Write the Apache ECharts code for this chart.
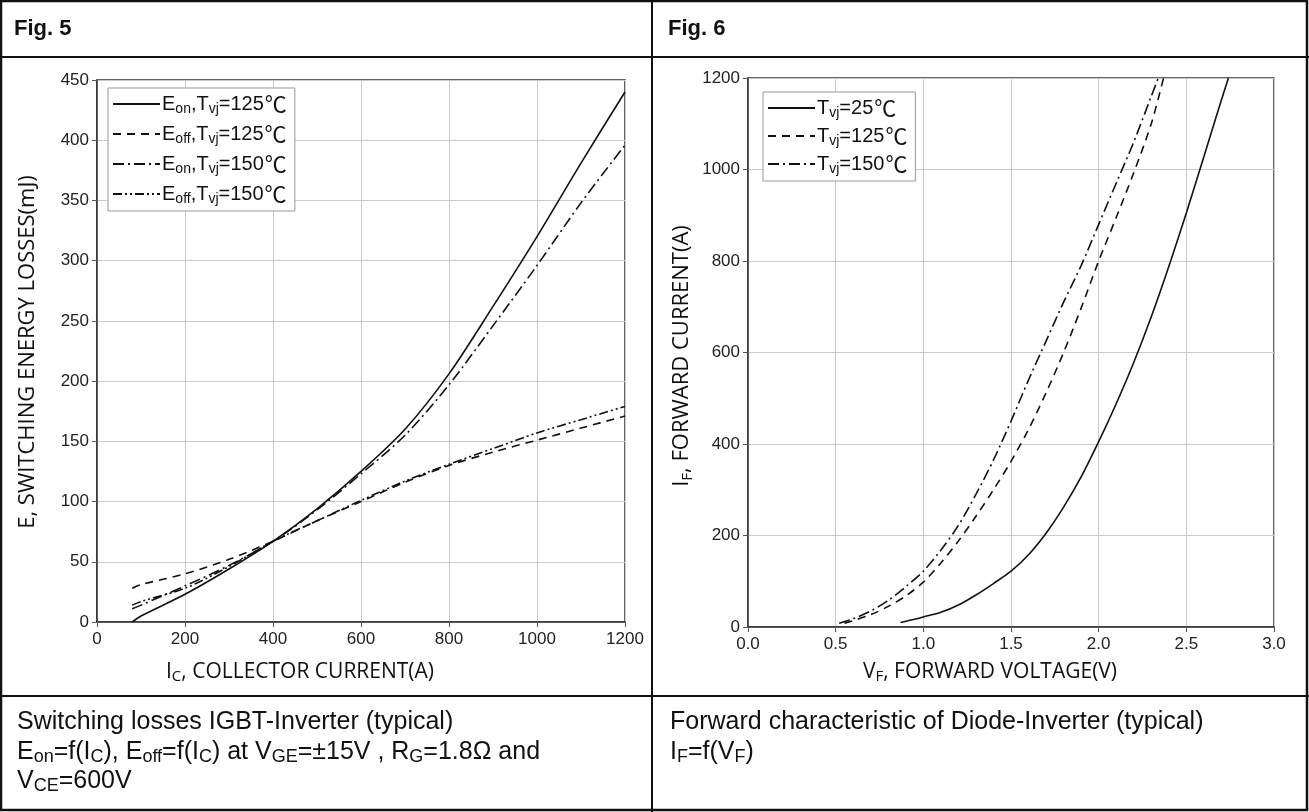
<!DOCTYPE html>
<html>
<head>
<meta charset="utf-8">
<script src="https://cdn.jsdelivr.net/npm/echarts@6/dist/echarts.min.js"></script>
<style>
  html, body { margin: 0; padding: 0; background: #fff; }
  #chart { width: 1309px; height: 812px; }
</style>
</head>
<body>
<div id="chart"></div>
<script>
// Fig. 5 - switching losses vs collector current (mJ over A)
const icPoints = [80, 100, 200, 300, 400, 500, 600, 700, 800, 900, 1000, 1100, 1200]
const eon125 = [0, 5, 23, 44, 67, 94, 125, 160, 206, 262, 320, 381, 440]
const eoff125 = [28, 31, 40, 52, 67, 84, 100, 116, 130, 141, 151, 161, 171]
const eon150 = [11, 14, 30, 47, 67, 93, 123, 155, 197, 246, 296, 348, 396]
const eoff150 = [14, 17, 28, 46, 67, 84, 101, 117, 131, 144, 157, 168, 179]

// Fig. 6 - diode forward characteristic (A over V)
const vf25 = [0.87, 0.95, 1.0, 1.1, 1.2, 1.3, 1.4, 1.5, 1.6, 1.7, 1.8, 1.9, 2.0, 2.1, 2.2, 2.3, 2.4, 2.5, 2.6, 2.7, 2.74]
const if25 = [10, 17, 22, 32, 48, 70, 95, 122, 158, 205, 262, 328, 405, 488, 578, 678, 788, 905, 1028, 1152, 1200]
const vf125 = [0.55, 0.6, 0.7, 0.8, 0.9, 1.0, 1.1, 1.2, 1.3, 1.4, 1.5, 1.6, 1.7, 1.8, 1.9, 2.0, 2.1, 2.2, 2.3, 2.37]
const if125 = [8, 14, 27, 45, 68, 98, 140, 188, 242, 300, 362, 432, 512, 600, 697, 800, 895, 993, 1100, 1200]
const vf150 = [0.52, 0.6, 0.7, 0.8, 0.9, 1.0, 1.1, 1.2, 1.3, 1.4, 1.5, 1.6, 1.7, 1.8, 1.9, 2.0, 2.1, 2.2, 2.3, 2.34]
const if150 = [8, 18, 35, 58, 88, 122, 168, 222, 290, 365, 450, 540, 625, 710, 790, 880, 970, 1060, 1160, 1200]

// tick labels
const fig5XTicks = [0, 200, 400, 600, 800, 1000, 1200]
const fig5YTicks = [0, 50, 100, 150, 200, 250, 300, 350, 400, 450]
const fig6XTicks = ['0.0', '0.5', '1.0', '1.5', '2.0', '2.5', '3.0']
const fig6YTicks = [0, 200, 400, 600, 800, 1000, 1200]

// legend names (rich text used for subscripts)
const legendText = {
  eon125: '{n|E}{s|on}{n|,T}{s|vj}{n|=125}{c|℃}',
  eoff125: '{n|E}{s|off}{n|,T}{s|vj}{n|=125}{c|℃}',
  eon150: '{n|E}{s|on}{n|,T}{s|vj}{n|=150}{c|℃}',
  eoff150: '{n|E}{s|off}{n|,T}{s|vj}{n|=150}{c|℃}',
  t25: '{n|T}{s|vj}{n|=25}{c|℃}',
  t125: '{n|T}{s|vj}{n|=125}{c|℃}',
  t150: '{n|T}{s|vj}{n|=150}{c|℃}',
}

const zip = (xs, ys) => xs.map((x, i) => [x, ys[i]])

const ink = '#111'
const gridColor = '#cbcbcb'
const labelFont = 'Liberation Sans, Arial, sans-serif'
const titleFont = 'Open Sans, Noto Sans, sans-serif'

const subRich = (size, family) => ({
  n: { fontSize: size, fontFamily: family, color: ink, lineHeight: size + 4 },
  s: { fontSize: Math.round(size * 0.7), fontFamily: family, color: ink, lineHeight: Math.round(size * 0.7), verticalAlign: 'bottom' },
  c: { fontSize: size + 2, fontFamily: 'Noto Sans CJK SC, sans-serif', color: ink, lineHeight: size + 4, padding: [0, 0, 0, 1] },
})

function lineSeries(name, data, xi, dash) {
  return {
    name: name,
    type: 'line',
    xAxisIndex: xi,
    yAxisIndex: xi,
    data: data,
    symbol: 'none',
    smooth: 0.3,
    animation: false,
    lineStyle: { color: ink, width: 1.6, type: dash },
    itemStyle: { color: ink },
  }
}

const dashed = [8, 6]
const dashDot = [11, 4, 2, 4]
const dashDotDot = [9, 3, 2, 3, 2, 3]

function valueAxis(gi, min, max, interval, fmt, isX) {
  return {
    type: 'value',
    gridIndex: gi,
    min: min,
    max: max,
    interval: interval,
    axisLine: { show: true, onZero: false, lineStyle: { color: '#333', width: 1.5 } },
    axisTick: { show: true, length: 5, lineStyle: { color: '#555' } },
    splitLine: { show: true, lineStyle: { color: gridColor, width: 1 } },
    axisLabel: {
      fontSize: 17,
      color: '#222',
      fontFamily: labelFont,
      margin: isX ? 9 : 8,
      formatter: fmt,
    },
  }
}

function textEl(x, y, text, size, family) {
  return {
    type: 'text',
    x: x,
    y: y,
    silent: true,
    style: {
      text: text,
      rich: subRich(size, family),
      fill: ink,
      align: 'left',
      verticalAlign: 'middle',
    },
  }
}

function titleEl(x, y, text, rotate) {
  return {
    type: 'text',
    x: x,
    y: y,
    rotation: rotate ? Math.PI / 2 : 0,
    silent: true,
    style: {
      text: text,
      rich: subRich(rotate ? 22 : 21, titleFont),
      fill: ink,
      align: 'center',
      verticalAlign: 'middle',
    },
  }
}

function legendBox(names, left, top, gap) {
  return {
    data: names,
    left: left,
    top: top,
    orient: 'vertical',
    selectedMode: false,
    itemWidth: 47,
    itemHeight: 12,
    itemGap: gap,
    padding: [5, 8, 5, 4],
    borderColor: '#999',
    borderWidth: 1,
    backgroundColor: '#fff',
    itemStyle: { opacity: 0, color: 'rgba(0,0,0,0)', borderWidth: 0 },
    textStyle: { padding: [0, 0, 0, -3], rich: subRich(20, labelFont) },
    formatter: (name) => legendText[name],
  }
}

const frame = { stroke: '#111', lineWidth: 2 }

const option = {
  backgroundColor: '#fff',
  animation: false,
  grid: [
    { left: 97, top: 80, width: 528, height: 542, show: true, borderColor: '#333', borderWidth: 1.5 },
    { left: 748, top: 78, width: 526, height: 549, show: true, borderColor: '#333', borderWidth: 1.5 },
  ],
  xAxis: [
    valueAxis(0, fig5XTicks[0], fig5XTicks[fig5XTicks.length - 1], 200, (v) => String(v), true),
    valueAxis(1, 0, 3, 0.5, (v) => fig6XTicks[Math.round(v * 2)], true),
  ],
  yAxis: [
    valueAxis(0, fig5YTicks[0], fig5YTicks[fig5YTicks.length - 1], 50, (v) => String(v), false),
    valueAxis(1, fig6YTicks[0], fig6YTicks[fig6YTicks.length - 1], 200, (v) => String(v), false),
  ],
  legend: [
    legendBox(['eon125', 'eoff125', 'eon150', 'eoff150'], 108, 88, 7),
    legendBox(['t25', 't125', 't150'], 763, 92, 5),
  ],
  series: [
    lineSeries('eon125', zip(icPoints, eon125), 0, 'solid'),
    lineSeries('eoff125', zip(icPoints, eoff125), 0, dashed),
    lineSeries('eon150', zip(icPoints, eon150), 0, dashDot),
    lineSeries('eoff150', zip(icPoints, eoff150), 0, dashDotDot),
    lineSeries('t25', zip(vf25, if25), 1, 'solid'),
    lineSeries('t125', zip(vf125, if125), 1, dashed),
    lineSeries('t150', zip(vf150, if150), 1, dashDot),
  ],
  graphic: [
    // table frame
    { type: 'rect', shape: { x: 1, y: 1, width: 1306, height: 809 }, style: { fill: null, stroke: '#111', lineWidth: 2.5 }, silent: true },
    { type: 'line', shape: { x1: 0, y1: 57, x2: 1309, y2: 57 }, style: frame, silent: true },
    { type: 'line', shape: { x1: 0, y1: 696, x2: 1309, y2: 696 }, style: frame, silent: true },
    { type: 'line', shape: { x1: 652, y1: 0, x2: 652, y2: 812 }, style: frame, silent: true },

    // headers
    { type: 'text', x: 14, y: 29, silent: true, style: { text: 'Fig. 5', font: 'bold 22px Liberation Sans, Arial', fill: ink, verticalAlign: 'middle' } },
    { type: 'text', x: 668, y: 29, silent: true, style: { text: 'Fig. 6', font: 'bold 22px Liberation Sans, Arial', fill: ink, verticalAlign: 'middle' } },

    // axis titles
    titleEl(300, 672, '{n|I}{s|C}{n|, COLLECTOR CURRENT(A)}', false),
    titleEl(28, 352, '{n|E, SWITCHING ENERGY LOSSES(mJ)}', true),
    titleEl(990, 672, '{n|V}{s|F}{n|, FORWARD VOLTAGE(V)}', false),
    titleEl(682, 356, '{n|I}{s|F}{n|, FORWARD CURRENT(A)}', true),

    // captions
    textEl(17, 722, '{n|Switching losses IGBT-Inverter (typical)}', 25, labelFont),
    textEl(17, 752, '{n|E}{s|on}{n|=f(I}{s|C}{n|), E}{s|off}{n|=f(I}{s|C}{n|) at V}{s|GE}{n|=±15V , R}{s|G}{n|=1.8Ω and}', 25, labelFont),
    textEl(17, 781, '{n|V}{s|CE}{n|=600V}', 25, labelFont),
    textEl(670, 722, '{n|Forward characteristic of Diode-Inverter (typical)}', 25, labelFont),
    textEl(670, 752, '{n|I}{s|F}{n|=f(V}{s|F}{n|)}', 25, labelFont),
  ],
}

const chart = echarts.init(document.getElementById('chart'))
chart.setOption(option)
</script>
</body>
</html>
